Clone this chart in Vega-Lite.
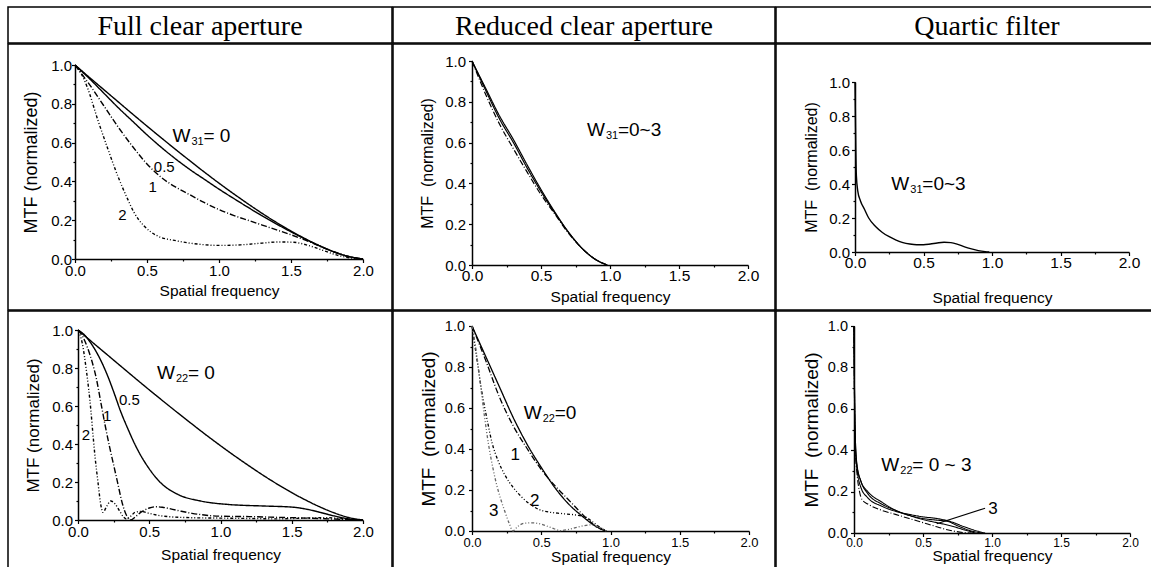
{
  "$schema": "https://vega.github.io/schema/vega-lite/v6.json",
  "padding": {"left": 7, "top": 6, "right": 0, "bottom": 0},
  "background": "white",
  "spacing": -1.5,
  "config": {
    "view": {"stroke": "black", "strokeWidth": 1.5},
    "concat": {"spacing": -1.5},
    "axis": {"grid": false, "domainColor": "black", "domainWidth": 1.5, "tickColor": "black", "tickWidth": 1.2, "labelColor": "black", "titleColor": "black", "labelFont": "Liberation Sans", "titleFont": "Liberation Sans", "titleFontWeight": "normal", "labelFlush": false, "labelOverlap": false},
    "text": {"font": "Liberation Sans", "fill": "black"},
    "line": {"color": "black"}
  },
  "datasets": {
    "p1": [
      {"f":0,"m":1,"c":"0"},{"f":0.1,"m":0.936,"c":"0"},{"f":0.2,"m":0.873,"c":"0"},{"f":0.3,"m":0.81,"c":"0"},{"f":0.4,"m":0.747,"c":"0"},{"f":0.5,"m":0.685,"c":"0"},{"f":0.6,"m":0.624,"c":"0"},{"f":0.7,"m":0.564,"c":"0"},{"f":0.8,"m":0.505,"c":"0"},{"f":0.9,"m":0.447,"c":"0"},{"f":1,"m":0.391,"c":"0"},{"f":1.1,"m":0.337,"c":"0"},{"f":1.2,"m":0.285,"c":"0"},{"f":1.3,"m":0.235,"c":"0"},{"f":1.4,"m":0.188,"c":"0"},{"f":1.5,"m":0.144,"c":"0"},{"f":1.6,"m":0.104,"c":"0"},{"f":1.7,"m":0.068,"c":"0"},{"f":1.8,"m":0.037,"c":"0"},{"f":1.9,"m":0.013,"c":"0"},{"f":2,"m":0,"c":"0"},
      {"f":0,"m":1,"c":"0.5"},{"f":0.1,"m":0.93,"c":"0.5"},{"f":0.2,"m":0.855,"c":"0.5"},{"f":0.3,"m":0.78,"c":"0.5"},{"f":0.4,"m":0.71,"c":"0.5"},{"f":0.5,"m":0.64,"c":"0.5"},{"f":0.6,"m":0.575,"c":"0.5"},{"f":0.7,"m":0.515,"c":"0.5"},{"f":0.8,"m":0.46,"c":"0.5"},{"f":0.9,"m":0.41,"c":"0.5"},{"f":1,"m":0.36,"c":"0.5"},{"f":1.1,"m":0.313,"c":"0.5"},{"f":1.2,"m":0.267,"c":"0.5"},{"f":1.3,"m":0.222,"c":"0.5"},{"f":1.4,"m":0.18,"c":"0.5"},{"f":1.5,"m":0.14,"c":"0.5"},{"f":1.6,"m":0.102,"c":"0.5"},{"f":1.7,"m":0.067,"c":"0.5"},{"f":1.8,"m":0.036,"c":"0.5"},{"f":1.9,"m":0.013,"c":"0.5"},{"f":2,"m":0,"c":"0.5"},
      {"f":0,"m":1,"c":"1"},{"f":0.05,"m":0.95,"c":"1"},{"f":0.1,"m":0.9,"c":"1"},{"f":0.2,"m":0.79,"c":"1"},{"f":0.3,"m":0.68,"c":"1"},{"f":0.4,"m":0.58,"c":"1"},{"f":0.5,"m":0.49,"c":"1"},{"f":0.6,"m":0.42,"c":"1"},{"f":0.7,"m":0.37,"c":"1"},{"f":0.8,"m":0.33,"c":"1"},{"f":0.9,"m":0.29,"c":"1"},{"f":1,"m":0.255,"c":"1"},{"f":1.1,"m":0.225,"c":"1"},{"f":1.2,"m":0.2,"c":"1"},{"f":1.3,"m":0.175,"c":"1"},{"f":1.4,"m":0.15,"c":"1"},{"f":1.5,"m":0.125,"c":"1"},{"f":1.6,"m":0.097,"c":"1"},{"f":1.7,"m":0.066,"c":"1"},{"f":1.8,"m":0.036,"c":"1"},{"f":1.9,"m":0.013,"c":"1"},{"f":2,"m":0,"c":"1"},
      {"f":0,"m":1,"c":"2"},{"f":0.04,"m":0.96,"c":"2"},{"f":0.088,"m":0.88,"c":"2"},{"f":0.157,"m":0.72,"c":"2"},{"f":0.227,"m":0.57,"c":"2"},{"f":0.296,"m":0.43,"c":"2"},{"f":0.365,"m":0.31,"c":"2"},{"f":0.41,"m":0.24,"c":"2"},{"f":0.48,"m":0.17,"c":"2"},{"f":0.57,"m":0.12,"c":"2"},{"f":0.71,"m":0.093,"c":"2"},{"f":0.85,"m":0.077,"c":"2"},{"f":1,"m":0.07,"c":"2"},{"f":1.15,"m":0.073,"c":"2"},{"f":1.3,"m":0.082,"c":"2"},{"f":1.42,"m":0.088,"c":"2"},{"f":1.52,"m":0.086,"c":"2"},{"f":1.62,"m":0.07,"c":"2"},{"f":1.72,"m":0.045,"c":"2"},{"f":1.82,"m":0.02,"c":"2"},{"f":1.92,"m":0.005,"c":"2"},{"f":2,"m":0,"c":"2"}
    ],
    "t1": [{"f":0.677,"m":0.632,"w":"W","s":"31","r":"= 0"}],
    "l1": [{"f":0.62,"m":0.474,"t":"0.5"},{"f":0.54,"m":0.371,"t":"1"},{"f":0.33,"m":0.225,"t":"2"}],
    "p2": [
      {"f":0,"m":1,"c":"a"},{"f":0.1,"m":0.865,"c":"a"},{"f":0.2,"m":0.73,"c":"a"},{"f":0.3,"m":0.615,"c":"a"},{"f":0.4,"m":0.49,"c":"a"},{"f":0.5,"m":0.37,"c":"a"},{"f":0.6,"m":0.26,"c":"a"},{"f":0.7,"m":0.16,"c":"a"},{"f":0.8,"m":0.08,"c":"a"},{"f":0.9,"m":0.025,"c":"a"},{"f":0.98,"m":0,"c":"a"},
      {"f":0,"m":1,"c":"b"},{"f":0.1,"m":0.855,"c":"b"},{"f":0.2,"m":0.715,"c":"b"},{"f":0.3,"m":0.6,"c":"b"},{"f":0.4,"m":0.475,"c":"b"},{"f":0.5,"m":0.36,"c":"b"},{"f":0.6,"m":0.255,"c":"b"},{"f":0.7,"m":0.16,"c":"b"},{"f":0.8,"m":0.08,"c":"b"},{"f":0.9,"m":0.025,"c":"b"},{"f":0.98,"m":0,"c":"b"},
      {"f":0,"m":1,"c":"c"},{"f":0.1,"m":0.835,"c":"c"},{"f":0.2,"m":0.69,"c":"c"},{"f":0.3,"m":0.57,"c":"c"},{"f":0.4,"m":0.455,"c":"c"},{"f":0.5,"m":0.345,"c":"c"},{"f":0.6,"m":0.25,"c":"c"},{"f":0.7,"m":0.155,"c":"c"},{"f":0.8,"m":0.08,"c":"c"},{"f":0.9,"m":0.025,"c":"c"},{"f":0.98,"m":0,"c":"c"}
    ],
    "t2": [{"f":0.833,"m":0.66,"w":"W","s":"31","r":"=0~3"}],
    "p3": [
      {"f":0,"m":1,"c":"q"},{"f":0.003,"m":0.8,"c":"q"},{"f":0.006,"m":0.6,"c":"q"},{"f":0.01,"m":0.45,"c":"q"},{"f":0.02,"m":0.36,"c":"q"},{"f":0.04,"m":0.3,"c":"q"},{"f":0.07,"m":0.25,"c":"q"},{"f":0.1,"m":0.2,"c":"q"},{"f":0.15,"m":0.15,"c":"q"},{"f":0.2,"m":0.115,"c":"q"},{"f":0.25,"m":0.09,"c":"q"},{"f":0.3,"m":0.07,"c":"q"},{"f":0.35,"m":0.055,"c":"q"},{"f":0.4,"m":0.047,"c":"q"},{"f":0.45,"m":0.043,"c":"q"},{"f":0.5,"m":0.043,"c":"q"},{"f":0.55,"m":0.047,"c":"q"},{"f":0.6,"m":0.053,"c":"q"},{"f":0.65,"m":0.057,"c":"q"},{"f":0.7,"m":0.055,"c":"q"},{"f":0.75,"m":0.045,"c":"q"},{"f":0.8,"m":0.03,"c":"q"},{"f":0.85,"m":0.018,"c":"q"},{"f":0.9,"m":0.008,"c":"q"},{"f":0.95,"m":0.002,"c":"q"},{"f":0.98,"m":0,"c":"q"}
    ],
    "t3": [{"f":0.265,"m":0.4,"w":"W","s":"31","r":"=0~3"}],
    "p4": [
      {"f":0,"m":1,"c":"0"},{"f":0.1,"m":0.936,"c":"0"},{"f":0.2,"m":0.873,"c":"0"},{"f":0.3,"m":0.81,"c":"0"},{"f":0.4,"m":0.747,"c":"0"},{"f":0.5,"m":0.685,"c":"0"},{"f":0.6,"m":0.624,"c":"0"},{"f":0.7,"m":0.564,"c":"0"},{"f":0.8,"m":0.505,"c":"0"},{"f":0.9,"m":0.447,"c":"0"},{"f":1,"m":0.391,"c":"0"},{"f":1.1,"m":0.337,"c":"0"},{"f":1.2,"m":0.285,"c":"0"},{"f":1.3,"m":0.235,"c":"0"},{"f":1.4,"m":0.188,"c":"0"},{"f":1.5,"m":0.144,"c":"0"},{"f":1.6,"m":0.104,"c":"0"},{"f":1.7,"m":0.068,"c":"0"},{"f":1.8,"m":0.037,"c":"0"},{"f":1.9,"m":0.013,"c":"0"},{"f":2,"m":0,"c":"0"},
      {"f":0,"m":1,"c":"0.5"},{"f":0.05,"m":0.97,"c":"0.5"},{"f":0.1,"m":0.92,"c":"0.5"},{"f":0.16,"m":0.84,"c":"0.5"},{"f":0.21,"m":0.755,"c":"0.5"},{"f":0.255,"m":0.665,"c":"0.5"},{"f":0.3,"m":0.57,"c":"0.5"},{"f":0.35,"m":0.48,"c":"0.5"},{"f":0.395,"m":0.405,"c":"0.5"},{"f":0.44,"m":0.34,"c":"0.5"},{"f":0.49,"m":0.28,"c":"0.5"},{"f":0.58,"m":0.196,"c":"0.5"},{"f":0.7,"m":0.135,"c":"0.5"},{"f":0.86,"m":0.1,"c":"0.5"},{"f":1.05,"m":0.082,"c":"0.5"},{"f":1.33,"m":0.073,"c":"0.5"},{"f":1.5,"m":0.068,"c":"0.5"},{"f":1.61,"m":0.056,"c":"0.5"},{"f":1.7,"m":0.04,"c":"0.5"},{"f":1.8,"m":0.021,"c":"0.5"},{"f":1.9,"m":0.006,"c":"0.5"},{"f":2,"m":0,"c":"0.5"},
      {"f":0,"m":1,"c":"1"},{"f":0.03,"m":0.97,"c":"1"},{"f":0.07,"m":0.9,"c":"1"},{"f":0.1,"m":0.83,"c":"1"},{"f":0.13,"m":0.74,"c":"1"},{"f":0.16,"m":0.62,"c":"1"},{"f":0.19,"m":0.5,"c":"1"},{"f":0.22,"m":0.39,"c":"1"},{"f":0.25,"m":0.29,"c":"1"},{"f":0.28,"m":0.19,"c":"1"},{"f":0.31,"m":0.09,"c":"1"},{"f":0.34,"m":0.025,"c":"1"},{"f":0.37,"m":0,"c":"1"},{"f":0.4,"m":0.015,"c":"1"},{"f":0.45,"m":0.045,"c":"1"},{"f":0.5,"m":0.063,"c":"1"},{"f":0.55,"m":0.07,"c":"1"},{"f":0.6,"m":0.066,"c":"1"},{"f":0.7,"m":0.05,"c":"1"},{"f":0.8,"m":0.035,"c":"1"},{"f":0.9,"m":0.025,"c":"1"},{"f":1,"m":0.02,"c":"1"},{"f":1.2,"m":0.018,"c":"1"},{"f":1.4,"m":0.014,"c":"1"},{"f":1.6,"m":0.01,"c":"1"},{"f":1.8,"m":0.005,"c":"1"},{"f":2,"m":0,"c":"1"},
      {"f":0,"m":1,"c":"2"},{"f":0.03,"m":0.93,"c":"2"},{"f":0.06,"m":0.78,"c":"2"},{"f":0.09,"m":0.58,"c":"2"},{"f":0.105,"m":0.45,"c":"2"},{"f":0.12,"m":0.33,"c":"2"},{"f":0.14,"m":0.2,"c":"2"},{"f":0.16,"m":0.08,"c":"2"},{"f":0.175,"m":0.04,"c":"2"},{"f":0.2,"m":0.07,"c":"2"},{"f":0.23,"m":0.1,"c":"2"},{"f":0.26,"m":0.085,"c":"2"},{"f":0.29,"m":0.05,"c":"2"},{"f":0.32,"m":0.015,"c":"2"},{"f":0.34,"m":0.005,"c":"2"},{"f":0.37,"m":0.02,"c":"2"},{"f":0.4,"m":0.04,"c":"2"},{"f":0.44,"m":0.045,"c":"2"},{"f":0.5,"m":0.035,"c":"2"},{"f":0.6,"m":0.02,"c":"2"},{"f":0.8,"m":0.012,"c":"2"},{"f":1,"m":0.01,"c":"2"},{"f":1.2,"m":0.008,"c":"2"},{"f":1.4,"m":0.006,"c":"2"},{"f":1.6,"m":0.01,"c":"2"},{"f":1.75,"m":0.012,"c":"2"},{"f":1.9,"m":0.004,"c":"2"},{"f":2,"m":0,"c":"2"}
    ],
    "t4": [{"f":0.554,"m":0.775,"w":"W","s":"22","r":"= 0"}],
    "l4": [{"f":0.36,"m":0.63,"t":"0.5"},{"f":0.204,"m":0.546,"t":"1"},{"f":0.056,"m":0.449,"t":"2"}],
    "p5": [
      {"f":0,"m":1,"c":"0"},{"f":0.1,"m":0.85,"c":"0"},{"f":0.2,"m":0.7,"c":"0"},{"f":0.3,"m":0.55,"c":"0"},{"f":0.4,"m":0.42,"c":"0"},{"f":0.5,"m":0.31,"c":"0"},{"f":0.6,"m":0.21,"c":"0"},{"f":0.7,"m":0.13,"c":"0"},{"f":0.8,"m":0.07,"c":"0"},{"f":0.9,"m":0.02,"c":"0"},{"f":0.97,"m":0,"c":"0"},
      {"f":0,"m":1,"c":"1"},{"f":0.1,"m":0.83,"c":"1"},{"f":0.2,"m":0.65,"c":"1"},{"f":0.3,"m":0.51,"c":"1"},{"f":0.4,"m":0.4,"c":"1"},{"f":0.5,"m":0.3,"c":"1"},{"f":0.6,"m":0.22,"c":"1"},{"f":0.7,"m":0.15,"c":"1"},{"f":0.8,"m":0.08,"c":"1"},{"f":0.9,"m":0.02,"c":"1"},{"f":0.97,"m":0,"c":"1"},
      {"f":0,"m":1,"c":"2"},{"f":0.035,"m":0.84,"c":"2"},{"f":0.072,"m":0.675,"c":"2"},{"f":0.11,"m":0.54,"c":"2"},{"f":0.145,"m":0.43,"c":"2"},{"f":0.19,"m":0.34,"c":"2"},{"f":0.24,"m":0.27,"c":"2"},{"f":0.3,"m":0.21,"c":"2"},{"f":0.36,"m":0.165,"c":"2"},{"f":0.42,"m":0.13,"c":"2"},{"f":0.48,"m":0.106,"c":"2"},{"f":0.55,"m":0.093,"c":"2"},{"f":0.65,"m":0.085,"c":"2"},{"f":0.75,"m":0.078,"c":"2"},{"f":0.82,"m":0.068,"c":"2"},{"f":0.87,"m":0.045,"c":"2"},{"f":0.92,"m":0.02,"c":"2"},{"f":0.97,"m":0,"c":"2"},
      {"f":0,"m":1,"c":"3"},{"f":0.03,"m":0.88,"c":"3"},{"f":0.06,"m":0.72,"c":"3"},{"f":0.09,"m":0.56,"c":"3"},{"f":0.12,"m":0.42,"c":"3"},{"f":0.15,"m":0.31,"c":"3"},{"f":0.18,"m":0.22,"c":"3"},{"f":0.21,"m":0.15,"c":"3"},{"f":0.24,"m":0.09,"c":"3"},{"f":0.27,"m":0.035,"c":"3"},{"f":0.295,"m":0,"c":"3"},{"f":0.33,"m":0.022,"c":"3"},{"f":0.38,"m":0.038,"c":"3"},{"f":0.44,"m":0.04,"c":"3"},{"f":0.5,"m":0.033,"c":"3"},{"f":0.57,"m":0.017,"c":"3"},{"f":0.64,"m":0.002,"c":"3"},{"f":0.7,"m":0.008,"c":"3"},{"f":0.78,"m":0.022,"c":"3"},{"f":0.86,"m":0.03,"c":"3"},{"f":0.92,"m":0.018,"c":"3"},{"f":0.97,"m":0,"c":"3"}
    ],
    "t5": [{"f":0.373,"m":0.576,"w":"W","s":"22","r":"=0"}],
    "l5": [{"f":0.313,"m":0.372,"t":"1"},{"f":0.453,"m":0.145,"t":"2"},{"f":0.157,"m":0.096,"t":"3"}],
    "p6": [
      {"f":0,"m":1,"c":"a"},{"f":0.005,"m":0.6,"c":"a"},{"f":0.01,"m":0.45,"c":"a"},{"f":0.02,"m":0.33,"c":"a"},{"f":0.05,"m":0.25,"c":"a"},{"f":0.1,"m":0.19,"c":"a"},{"f":0.2,"m":0.14,"c":"a"},{"f":0.3,"m":0.11,"c":"a"},{"f":0.4,"m":0.085,"c":"a"},{"f":0.5,"m":0.07,"c":"a"},{"f":0.6,"m":0.062,"c":"a"},{"f":0.68,"m":0.056,"c":"a"},{"f":0.75,"m":0.035,"c":"a"},{"f":0.85,"m":0.01,"c":"a"},{"f":0.93,"m":0,"c":"a"},
      {"f":0,"m":1,"c":"b"},{"f":0.005,"m":0.6,"c":"b"},{"f":0.01,"m":0.45,"c":"b"},{"f":0.02,"m":0.34,"c":"b"},{"f":0.05,"m":0.25,"c":"b"},{"f":0.1,"m":0.2,"c":"b"},{"f":0.2,"m":0.15,"c":"b"},{"f":0.3,"m":0.11,"c":"b"},{"f":0.4,"m":0.085,"c":"b"},{"f":0.5,"m":0.065,"c":"b"},{"f":0.6,"m":0.05,"c":"b"},{"f":0.7,"m":0.035,"c":"b"},{"f":0.8,"m":0.015,"c":"b"},{"f":0.88,"m":0,"c":"b"},
      {"f":0,"m":1,"c":"c"},{"f":0.005,"m":0.55,"c":"c"},{"f":0.01,"m":0.4,"c":"c"},{"f":0.02,"m":0.3,"c":"c"},{"f":0.04,"m":0.2,"c":"c"},{"f":0.06,"m":0.16,"c":"c"},{"f":0.1,"m":0.14,"c":"c"},{"f":0.2,"m":0.11,"c":"c"},{"f":0.3,"m":0.09,"c":"c"},{"f":0.4,"m":0.07,"c":"c"},{"f":0.5,"m":0.05,"c":"c"},{"f":0.6,"m":0.03,"c":"c"},{"f":0.7,"m":0.012,"c":"c"},{"f":0.8,"m":0.002,"c":"c"},{"f":0.85,"m":0,"c":"c"},
      {"f":0,"m":1,"c":"d"},{"f":0.005,"m":0.58,"c":"d"},{"f":0.01,"m":0.42,"c":"d"},{"f":0.02,"m":0.32,"c":"d"},{"f":0.05,"m":0.22,"c":"d"},{"f":0.1,"m":0.17,"c":"d"},{"f":0.2,"m":0.13,"c":"d"},{"f":0.3,"m":0.105,"c":"d"},{"f":0.4,"m":0.09,"c":"d"},{"f":0.5,"m":0.078,"c":"d"},{"f":0.6,"m":0.07,"c":"d"},{"f":0.7,"m":0.055,"c":"d"},{"f":0.8,"m":0.03,"c":"d"},{"f":0.9,"m":0.008,"c":"d"},{"f":0.95,"m":0,"c":"d"}
    ],
    "t6": [{"f":0.198,"m":0.33,"w":"W","s":"22","r":"= 0 ~ 3"}],
    "l6": [{"f":1.007,"m":0.116,"t":"3"}],
    "r6": [{"f":0.95,"m":0.12,"f2":0.6,"m2":0.045}]
  },
  "vconcat": [
    {
      "spacing": -1.5,
      "hconcat": [
        {"width": 384, "height": 36, "data": {"values": [{"h": "Full clear aperture", "x": 0.5, "y": 0.45}]}, "mark": {"type": "text", "font": "Liberation Serif", "fontSize": 28}, "encoding": {"text": {"field": "h"}, "x": {"field": "x", "type": "quantitative", "scale": {"domain": [0, 1]}, "axis": null}, "y": {"field": "y", "type": "quantitative", "scale": {"domain": [0, 1]}, "axis": null}}},
        {"width": 382, "height": 36, "data": {"values": [{"h": "Reduced clear aperture", "x": 0.5, "y": 0.45}]}, "mark": {"type": "text", "font": "Liberation Serif", "fontSize": 28}, "encoding": {"text": {"field": "h"}, "x": {"field": "x", "type": "quantitative", "scale": {"domain": [0, 1]}, "axis": null}, "y": {"field": "y", "type": "quantitative", "scale": {"domain": [0, 1]}, "axis": null}}},
        {"width": 422, "height": 36, "data": {"values": [{"h": "Quartic filter", "x": 0.5, "y": 0.45}]}, "mark": {"type": "text", "font": "Liberation Serif", "fontSize": 28}, "encoding": {"text": {"field": "h"}, "x": {"field": "x", "type": "quantitative", "scale": {"domain": [0, 1]}, "axis": null}, "y": {"field": "y", "type": "quantitative", "scale": {"domain": [0, 1]}, "axis": null}}}
      ]
    },
    {
      "spacing": -1.5,
      "hconcat": [
        {
          "width": 384, "height": 266,
          "encoding": {
            "x": {"field": "f", "type": "quantitative", "scale": {"domain": [0, 2], "range": [67, 355]}, "axis": {"title": "Spatial frequency", "offset": -51, "values": [0,0.25,0.5,0.75,1,1.25,1.5,1.75,2], "labelExpr": "(datum.value*4)%2 ? '' : format(datum.value,'.1f')", "tickSize": {"condition": {"test": "(datum.value*4)%2", "value": 2}, "value": 3.5}, "labelFontSize": 15, "titleFontSize": 15.5, "labelPadding": 0.5, "titlePadding": 5}},
            "y": {"field": "m", "type": "quantitative", "scale": {"domain": [0, 1], "range": [215, 21]}, "axis": {"title": "MTF (normalized)", "offset": -67, "values": [0,0.1,0.2,0.3,0.4,0.5,0.6,0.7,0.8,0.9,1], "labelExpr": "round(datum.value*10)%2 ? '' : format(datum.value,'.1f')", "tickSize": {"condition": {"test": "round(datum.value*10)%2", "value": 2}, "value": 3.5}, "labelFontSize": 15, "titleFontSize": 18, "labelPadding": 0, "titlePadding": 10}}
          },
          "layer": [
            {"data": {"name": "p1"}, "mark": {"type": "line", "interpolate": "monotone", "strokeWidth": 1.4}, "encoding": {"strokeDash": {"field": "c", "type": "nominal", "scale": {"domain": ["0","0.5","1","2"], "range": [[1,0],[1,0],[6,2,1,2],[3,2,1,2,1,2]]}, "legend": null}}},
            {"data": {"name": "t1"}, "mark": {"type": "text", "align": "left", "baseline": "middle", "fontSize": 19}, "encoding": {"text": {"field": "w"}}},
            {"data": {"name": "t1"}, "mark": {"type": "text", "align": "left", "baseline": "middle", "fontSize": 11, "dx": 19, "dy": 6}, "encoding": {"text": {"field": "s"}}},
            {"data": {"name": "t1"}, "mark": {"type": "text", "align": "left", "baseline": "middle", "fontSize": 19, "dx": 31}, "encoding": {"text": {"field": "r"}}},
            {"data": {"name": "l1"}, "mark": {"type": "text", "align": "center", "baseline": "middle", "fontSize": 15}, "encoding": {"text": {"field": "t"}}}
          ]
        },
        {
          "width": 382, "height": 266,
          "encoding": {
            "x": {"field": "f", "type": "quantitative", "scale": {"domain": [0, 2], "range": [79, 355]}, "axis": {"title": "Spatial frequency", "offset": -45, "values": [0,0.25,0.5,0.75,1,1.25,1.5,1.75,2], "labelExpr": "(datum.value*4)%2 ? '' : format(datum.value,'.1f')", "tickSize": {"condition": {"test": "(datum.value*4)%2", "value": 2}, "value": 3.5}, "labelFontSize": 15.5, "titleFontSize": 15.5, "labelPadding": 0, "titlePadding": 5}},
            "y": {"field": "m", "type": "quantitative", "scale": {"domain": [0, 1], "range": [221, 17]}, "axis": {"title": "MTF\u00a0 (normalized)", "offset": -79, "values": [0,0.1,0.2,0.3,0.4,0.5,0.6,0.7,0.8,0.9,1], "labelExpr": "round(datum.value*10)%2 ? '' : format(datum.value,'.1f')", "tickSize": {"condition": {"test": "round(datum.value*10)%2", "value": 2}, "value": 3.5}, "labelFontSize": 15, "titleFontSize": 16, "labelPadding": 3, "titlePadding": 9}}
          },
          "layer": [
            {"data": {"name": "p2"}, "mark": {"type": "line", "interpolate": "monotone", "strokeWidth": 1.2}, "encoding": {"strokeDash": {"field": "c", "type": "nominal", "scale": {"domain": ["a","b","c"], "range": [[1,0],[1,0],[3,2]]}, "legend": null}}},
            {"data": {"name": "t2"}, "mark": {"type": "text", "align": "left", "baseline": "middle", "fontSize": 19}, "encoding": {"text": {"field": "w"}}},
            {"data": {"name": "t2"}, "mark": {"type": "text", "align": "left", "baseline": "middle", "fontSize": 11, "dx": 19, "dy": 6}, "encoding": {"text": {"field": "s"}}},
            {"data": {"name": "t2"}, "mark": {"type": "text", "align": "left", "baseline": "middle", "fontSize": 19, "dx": 31}, "encoding": {"text": {"field": "r"}}}
          ]
        },
        {
          "width": 422, "height": 266,
          "encoding": {
            "x": {"field": "f", "type": "quantitative", "scale": {"domain": [0, 2], "range": [79, 353]}, "axis": {"title": "Spatial frequency", "offset": -58, "values": [0,0.25,0.5,0.75,1,1.25,1.5,1.75,2], "labelExpr": "(datum.value*4)%2 ? '' : format(datum.value,'.1f')", "tickSize": {"condition": {"test": "(datum.value*4)%2", "value": 2}, "value": 3.5}, "labelFontSize": 15.5, "titleFontSize": 15.5, "labelPadding": 0, "titlePadding": 19}},
            "y": {"field": "m", "type": "quantitative", "scale": {"domain": [0, 1], "range": [208, 38]}, "axis": {"title": "MTF\u00a0 (normalized)", "offset": -79, "values": [0,0.1,0.2,0.3,0.4,0.5,0.6,0.7,0.8,0.9,1], "labelExpr": "round(datum.value*10)%2 ? '' : format(datum.value,'.1f')", "tickSize": {"condition": {"test": "round(datum.value*10)%2", "value": 2}, "value": 3.5}, "labelFontSize": 15, "titleFontSize": 16, "labelPadding": 2, "titlePadding": 9}}
          },
          "layer": [
            {"data": {"name": "p3"}, "mark": {"type": "line", "interpolate": "monotone", "strokeWidth": 1.4}},
            {"data": {"name": "t3"}, "mark": {"type": "text", "align": "left", "baseline": "middle", "fontSize": 19}, "encoding": {"text": {"field": "w"}}},
            {"data": {"name": "t3"}, "mark": {"type": "text", "align": "left", "baseline": "middle", "fontSize": 11, "dx": 19, "dy": 6}, "encoding": {"text": {"field": "s"}}},
            {"data": {"name": "t3"}, "mark": {"type": "text", "align": "left", "baseline": "middle", "fontSize": 19, "dx": 31}, "encoding": {"text": {"field": "r"}}}
          ]
        }
      ]
    },
    {
      "spacing": -1.5,
      "hconcat": [
        {
          "width": 384, "height": 266,
          "encoding": {
            "x": {"field": "f", "type": "quantitative", "scale": {"domain": [0, 2], "range": [70, 355]}, "axis": {"title": "Spatial frequency", "offset": -57, "values": [0,0.25,0.5,0.75,1,1.25,1.5,1.75,2], "labelExpr": "(datum.value*4)%2 ? '' : format(datum.value,'.1f')", "tickSize": {"condition": {"test": "(datum.value*4)%2", "value": 2}, "value": 3.5}, "labelFontSize": 15, "titleFontSize": 15.5, "labelPadding": 1, "titlePadding": 8}},
            "y": {"field": "m", "type": "quantitative", "scale": {"domain": [0, 1], "range": [209, 19]}, "axis": {"title": "MTF (normalized)", "offset": -70, "values": [0,0.1,0.2,0.3,0.4,0.5,0.6,0.7,0.8,0.9,1], "labelExpr": "round(datum.value*10)%2 ? '' : format(datum.value,'.1f')", "tickSize": {"condition": {"test": "round(datum.value*10)%2", "value": 2}, "value": 3.5}, "labelFontSize": 15, "titleFontSize": 17, "labelPadding": 2, "titlePadding": 9}}
          },
          "layer": [
            {"data": {"name": "p4"}, "mark": {"type": "line", "interpolate": "monotone", "strokeWidth": 1.4}, "encoding": {"strokeDash": {"field": "c", "type": "nominal", "scale": {"domain": ["0","0.5","1","2"], "range": [[1,0],[1,0],[6,2,1,2],[3,2,1,2,1,2]]}, "legend": null}}},
            {"data": {"name": "t4"}, "mark": {"type": "text", "align": "left", "baseline": "middle", "fontSize": 19}, "encoding": {"text": {"field": "w"}}},
            {"data": {"name": "t4"}, "mark": {"type": "text", "align": "left", "baseline": "middle", "fontSize": 11, "dx": 19, "dy": 6}, "encoding": {"text": {"field": "s"}}},
            {"data": {"name": "t4"}, "mark": {"type": "text", "align": "left", "baseline": "middle", "fontSize": 19, "dx": 31}, "encoding": {"text": {"field": "r"}}},
            {"data": {"name": "l4"}, "mark": {"type": "text", "align": "center", "baseline": "middle", "fontSize": 15}, "encoding": {"text": {"field": "t"}}}
          ]
        },
        {
          "width": 382, "height": 266,
          "encoding": {
            "x": {"field": "f", "type": "quantitative", "scale": {"domain": [0, 2], "range": [79, 356]}, "axis": {"title": "Spatial frequency", "offset": -46, "values": [0,0.25,0.5,0.75,1,1.25,1.5,1.75,2], "labelExpr": "(datum.value*4)%2 ? '' : format(datum.value,'.1f')", "tickSize": {"condition": {"test": "(datum.value*4)%2", "value": 2}, "value": 3.5}, "labelFontSize": 13, "titleFontSize": 15.5, "labelPadding": 1.5, "titlePadding": 0}},
            "y": {"field": "m", "type": "quantitative", "scale": {"domain": [0, 1], "range": [220, 15]}, "axis": {"title": "MTF\u00a0 (normalized)", "offset": -79, "values": [0,0.1,0.2,0.3,0.4,0.5,0.6,0.7,0.8,0.9,1], "labelExpr": "round(datum.value*10)%2 ? '' : format(datum.value,'.1f')", "tickSize": {"condition": {"test": "round(datum.value*10)%2", "value": 2}, "value": 3.5}, "labelFontSize": 14.5, "titleFontSize": 19, "labelPadding": 4, "titlePadding": 6}}
          },
          "layer": [
            {"data": {"name": "p5"}, "mark": {"type": "line", "interpolate": "monotone", "strokeWidth": 1.3}, "encoding": {"strokeDash": {"field": "c", "type": "nominal", "scale": {"domain": ["0","1","2","3"], "range": [[1,0],[3,2],[1,0],[1.5,1.5]]}, "legend": null}, "color": {"field": "c", "type": "nominal", "scale": {"domain": ["0","1","2","3"], "range": ["black","black","black","#666666"]}, "legend": null}}},
            {"data": {"name": "t5"}, "mark": {"type": "text", "align": "left", "baseline": "middle", "fontSize": 19}, "encoding": {"text": {"field": "w"}}},
            {"data": {"name": "t5"}, "mark": {"type": "text", "align": "left", "baseline": "middle", "fontSize": 11, "dx": 19, "dy": 6}, "encoding": {"text": {"field": "s"}}},
            {"data": {"name": "t5"}, "mark": {"type": "text", "align": "left", "baseline": "middle", "fontSize": 19, "dx": 31}, "encoding": {"text": {"field": "r"}}},
            {"data": {"name": "l5"}, "mark": {"type": "text", "align": "center", "baseline": "middle", "fontSize": 17}, "encoding": {"text": {"field": "t"}}}
          ]
        },
        {
          "width": 422, "height": 266,
          "encoding": {
            "x": {"field": "f", "type": "quantitative", "scale": {"domain": [0, 2], "range": [78, 354]}, "axis": {"title": "Spatial frequency", "offset": -44, "values": [0,0.25,0.5,0.75,1,1.25,1.5,1.75,2], "labelExpr": "(datum.value*4)%2 ? '' : format(datum.value,'.1f')", "tickSize": {"condition": {"test": "(datum.value*4)%2", "value": 2}, "value": 3.5}, "labelFontSize": 12, "titleFontSize": 15.5, "labelPadding": 0.5, "titlePadding": 0.5}},
            "y": {"field": "m", "type": "quantitative", "scale": {"domain": [0, 1], "range": [222, 15]}, "axis": {"title": "MTF\u00a0 (normalized)", "offset": -78, "values": [0,0.1,0.2,0.3,0.4,0.5,0.6,0.7,0.8,0.9,1], "labelExpr": "round(datum.value*10)%2 ? '' : format(datum.value,'.1f')", "tickSize": {"condition": {"test": "round(datum.value*10)%2", "value": 2}, "value": 3.5}, "labelFontSize": 14.5, "titleFontSize": 19, "labelPadding": 3, "titlePadding": 6}}
          },
          "layer": [
            {"data": {"name": "p6"}, "mark": {"type": "line", "interpolate": "monotone", "strokeWidth": 1.1}, "encoding": {"strokeDash": {"field": "c", "type": "nominal", "scale": {"domain": ["a","b","c","d"], "range": [[1,0],[3,2],[1,0],[1,0]]}, "legend": null}}},
            {"data": {"name": "r6"}, "mark": {"type": "rule", "strokeWidth": 1.1, "color": "black"}, "encoding": {"x2": {"field": "f2"}, "y2": {"field": "m2"}}},
            {"data": {"name": "t6"}, "mark": {"type": "text", "align": "left", "baseline": "middle", "fontSize": 19}, "encoding": {"text": {"field": "w"}}},
            {"data": {"name": "t6"}, "mark": {"type": "text", "align": "left", "baseline": "middle", "fontSize": 11, "dx": 19, "dy": 6}, "encoding": {"text": {"field": "s"}}},
            {"data": {"name": "t6"}, "mark": {"type": "text", "align": "left", "baseline": "middle", "fontSize": 19, "dx": 31}, "encoding": {"text": {"field": "r"}}},
            {"data": {"name": "l6"}, "mark": {"type": "text", "align": "center", "baseline": "middle", "fontSize": 17}, "encoding": {"text": {"field": "t"}}}
          ]
        }
      ]
    }
  ]
}
